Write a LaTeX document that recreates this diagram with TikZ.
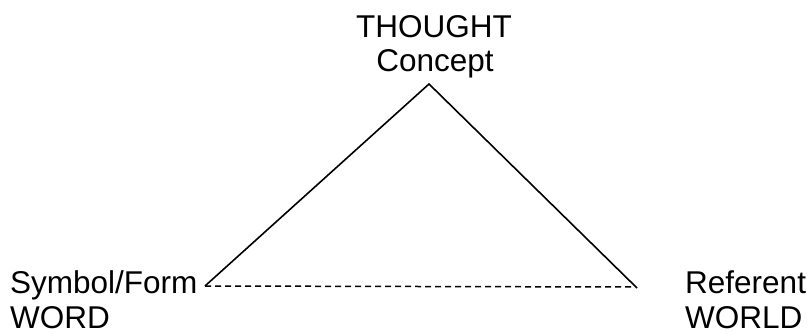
\documentclass[tikz,border=0pt]{standalone}
\usepackage{fontspec}
\setmainfont{Liberation Sans}
\begin{document}
\begin{tikzpicture}[x=1pt,y=-1pt,
  lbl/.style={font=\fontsize{31.5}{35}\selectfont, inner sep=0pt, anchor=base},
  edge/.style={line width=1.6pt, black},
  dashline/.style={line width=1.5pt, dash pattern=on 6pt off 4pt}]
\useasboundingbox (0,0) rectangle (811,334);
\node[lbl] (thought) at (434,38) {THOUGHT};
\node[lbl] (concept) at (435,72) {Concept};
\node[lbl, anchor=base west] (symbol) at (10,293) {Symbol/Form};
\node[lbl, anchor=base west] (word) at (10,328) {WORD};
\node[lbl, anchor=base west] (referent) at (685,293) {Referent};
\node[lbl, anchor=base west] (world) at (685,328) {WORLD};
\coordinate (apex) at (429,84);
\coordinate (lv) at (205,286);
\coordinate (rv) at (637,288);
\coordinate (re) at (632,287);
\draw[edge] (lv) -- (apex) -- (rv);
\draw[dashline] (lv) -- (re);
\end{tikzpicture}
\end{document}
